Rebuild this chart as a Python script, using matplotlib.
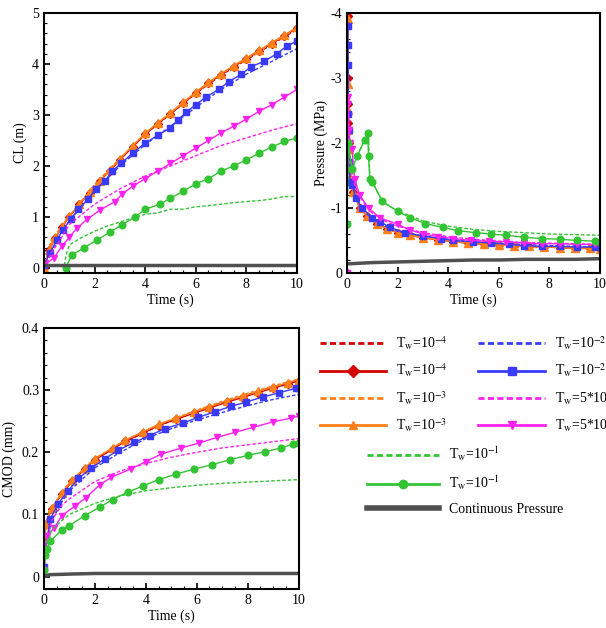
import matplotlib
matplotlib.use("Agg")
import matplotlib.pyplot as plt
from matplotlib.lines import Line2D
from matplotlib.ticker import MultipleLocator, FuncFormatter

plt.rcParams['font.family'] = ['Liberation Serif', 'DejaVu Serif']
plt.rcParams['mathtext.fontset'] = 'stix'
plt.rcParams['font.size'] = 10

# colours of the five Tw cases + continuous pressure
c_red, c_orange, c_blue, c_mag, c_green, c_gray = '#d40000', '#ff7f1a', '#3a3aff', '#ff22ee', '#33c433', '#505050'

# ---------------- CL (m) ----------------
cl_t_dash = [0, 0.3, 0.7, 1, 2, 3, 4, 5, 6, 7, 8, 9, 10]
cl_red_dash = [0, 0.55, 0.8, 1.0, 1.63, 2.13, 2.62, 3.02, 3.42, 3.78, 4.08, 4.38, 4.68]
cl_orange_dash = [0, 0.56, 0.81, 1.01, 1.64, 2.15, 2.64, 3.04, 3.44, 3.8, 4.1, 4.4, 4.7]
cl_blue_dash = [0, 0.3, 0.72, 0.92, 1.5, 2.0, 2.42, 2.78, 3.15, 3.5, 3.8, 4.05, 4.3]
cl_mag_dash = [0, 0.3, 0.6, 0.85, 1.25, 1.55, 1.8, 2.0, 2.2, 2.4, 2.55, 2.7, 2.83]
cl_t_gdash = [0.8, 0.9, 1.0, 1.5, 2, 2.5, 3, 3.5, 4, 4.5, 5, 5.5, 6, 6.5, 7, 7.5, 8, 8.5, 9, 9.5, 10]
cl_green_dash = [0.05, 0.3, 0.45, 0.6, 0.72, 0.82, 0.9, 0.98, 1.05, 1.08, 1.15, 1.15, 1.2, 1.22, 1.25, 1.28, 1.3, 1.32, 1.35, 1.4, 1.4]

cl_t_red = [0, 0.2, 0.45, 0.7, 1.0, 1.4, 1.8, 2.2, 2.6, 3.0, 3.5, 4.0, 4.5, 5.0, 5.5, 6.0, 6.5, 7.0, 7.5, 8.0, 8.5, 9.0, 9.5, 10]
cl_red = [0, 0.35, 0.58, 0.8, 1.0, 1.25, 1.47, 1.7, 1.9, 2.12, 2.37, 2.62, 2.83, 3.02, 3.23, 3.43, 3.62, 3.79, 3.95, 4.1, 4.25, 4.4, 4.55, 4.7]
cl_orange = [0, 0.36, 0.59, 0.81, 1.01, 1.26, 1.48, 1.71, 1.92, 2.14, 2.39, 2.64, 2.85, 3.04, 3.25, 3.45, 3.64, 3.81, 3.97, 4.12, 4.27, 4.42, 4.57, 4.72]
cl_t_blue = [0, 0.25, 0.5, 0.75, 1.05, 1.35, 1.75, 2.05, 2.4, 2.7, 3.05, 3.5, 4.0, 4.5, 5.0, 5.3, 5.6, 6.0, 6.4, 6.9, 7.3, 7.8, 8.2, 8.7, 9.2, 9.6, 10]
cl_blue = [0.05, 0.3, 0.55, 0.75, 0.95, 1.15, 1.35, 1.55, 1.7, 1.9, 2.05, 2.25, 2.45, 2.6, 2.75, 2.9, 3.05, 3.2, 3.35, 3.5, 3.65, 3.8, 3.95, 4.05, 4.2, 4.35, 4.45]
cl_t_mag = [0, 0.4, 0.7, 1.0, 1.3, 1.7, 2.2, 2.8, 3.1, 3.5, 4.0, 4.5, 5.0, 5.5, 6.0, 6.5, 7.0, 7.5, 8.0, 8.5, 9.0, 9.5, 10]
cl_mag = [0.05, 0.2, 0.42, 0.6, 0.78, 0.95, 1.13, 1.3, 1.45, 1.6, 1.75, 1.9, 2.05, 2.2, 2.35, 2.5, 2.65, 2.78, 2.92, 3.07, 3.2, 3.35, 3.5]
cl_t_green = [0.85, 1.1, 1.6, 2.1, 2.6, 3.1, 3.6, 4.0, 4.6, 5.0, 5.5, 6.0, 6.5, 7.0, 7.5, 8.0, 8.5, 9.0, 9.5, 10]
cl_green = [0.0, 0.25, 0.4, 0.55, 0.7, 0.85, 1.0, 1.15, 1.25, 1.37, 1.5, 1.65, 1.75, 1.9, 2.0, 2.12, 2.25, 2.37, 2.48, 2.55]
cont_t = [0, 10]
cl_cont = [0.05, 0.05]

# ---------------- Pressure (MPa) ----------------
p_t_dash = [0, 0.02, 0.05, 0.1, 0.25, 0.5, 0.8, 1, 1.5, 2, 3, 4, 5, 6, 7, 8, 9, 10]
p_red_dash = [0, -3.9, -2.0, -1.5, -1.25, -1.0, -0.88, -0.8, -0.7, -0.62, -0.55, -0.5, -0.46, -0.43, -0.41, -0.4, -0.38, -0.37]
p_orange_dash = [0, -3.9, -2.0, -1.5, -1.25, -1.0, -0.88, -0.8, -0.7, -0.62, -0.55, -0.5, -0.46, -0.43, -0.41, -0.4, -0.38, -0.37]
p_blue_dash = [0, -3.8, -2.2, -1.5, -1.3, -1.05, -0.9, -0.84, -0.72, -0.64, -0.57, -0.52, -0.48, -0.46, -0.44, -0.42, -0.41, -0.4]
p_mag_dash = [0, -2.7, -2.1, -1.7, -1.4, -1.18, -1.0, -0.92, -0.8, -0.72, -0.62, -0.56, -0.52, -0.49, -0.47, -0.46, -0.45, -0.44]
p_t_gdash = [0, 0.05, 0.2, 0.4, 0.7, 0.85, 0.9, 1.0, 1.4, 2.0, 2.5, 3.0, 4.0, 5.0, 6.0, 7.0, 8.0, 9.0, 10]
p_green_dash = [-0.75, -2.0, -1.6, -1.8, -2.05, -2.15, -1.5, -1.4, -1.1, -0.95, -0.88, -0.8, -0.72, -0.67, -0.64, -0.62, -0.6, -0.59, -0.58]

p_t_red = [0, 0.02, 0.03, 0.04, 0.05, 0.06, 0.08, 0.12, 0.25, 0.5, 0.8, 1.2, 1.6, 2.0, 2.5, 3.0, 3.6, 4.2, 4.8, 5.4, 6.0, 6.6, 7.2, 7.8, 8.4, 9.0, 9.6, 10]
p_red = [0, -3.95, -3.0, -2.6, -2.3, -2.0, -1.6, -1.45, -1.25, -1.0, -0.88, -0.76, -0.68, -0.62, -0.58, -0.54, -0.51, -0.48, -0.46, -0.44, -0.43, -0.42, -0.41, -0.4, -0.39, -0.38, -0.38, -0.37]
p_orange = [0, -3.9, -2.9, -2.5, -2.2, -1.9, -1.6, -1.45, -1.25, -1.0, -0.88, -0.76, -0.68, -0.62, -0.58, -0.54, -0.51, -0.48, -0.46, -0.44, -0.43, -0.42, -0.41, -0.4, -0.39, -0.38, -0.38, -0.37]
p_t_blue = [0, 0.02, 0.03, 0.04, 0.05, 0.07, 0.09, 0.12, 0.2, 0.35, 0.6, 1.0, 1.3, 1.7, 2.3, 3.0, 3.7, 4.2, 5.0, 5.7, 6.4, 7.0, 7.7, 8.4, 9.1, 9.8, 10]
p_blue = [0, -3.8, -3.5, -3.2, -2.45, -2.2, -1.7, -1.4, -1.35, -1.15, -1.0, -0.85, -0.79, -0.7, -0.62, -0.57, -0.53, -0.5, -0.48, -0.46, -0.44, -0.42, -0.41, -0.41, -0.4, -0.4, -0.4]
p_t_mag = [0, 0.03, 0.05, 0.08, 0.12, 0.2, 0.3, 0.5, 0.85, 1.3, 2.0, 2.5, 3.0, 3.6, 4.2, 4.9, 5.6, 6.3, 7.0, 7.7, 8.4, 9.1, 9.8, 10]
p_mag = [0, -2.7, -2.6, -2.2, -2.0, -1.9, -1.45, -1.2, -1.0, -0.85, -0.75, -0.66, -0.6, -0.56, -0.53, -0.5, -0.49, -0.48, -0.46, -0.45, -0.45, -0.44, -0.44, -0.45]
p_t_green = [0, 0.05, 0.2, 0.4, 0.7, 0.82, 0.85, 0.9, 1.0, 1.4, 2.0, 2.5, 3.1, 3.8, 4.4, 5.1, 5.7, 6.3, 7.0, 7.7, 8.4, 9.1, 9.8, 10]
p_green = [-0.75, -2.0, -1.6, -1.8, -2.05, -2.15, -1.8, -1.45, -1.4, -1.1, -0.95, -0.85, -0.76, -0.7, -0.65, -0.62, -0.6, -0.58, -0.55, -0.53, -0.52, -0.5, -0.49, -0.48]
p_cont_t = [0, 1, 2, 3, 4, 5, 6, 7, 8, 9, 10]
p_cont = [-0.14, -0.16, -0.17, -0.18, -0.19, -0.2, -0.2, -0.21, -0.21, -0.21, -0.22]

# ---------------- CMOD (mm) ----------------
cm_t_dash = [0, 0.05, 0.3, 0.7, 1, 2, 3, 4, 5, 6, 7, 8, 9, 10]
cm_red_dash = [0.04, 0.083, 0.108, 0.133, 0.15, 0.188, 0.213, 0.233, 0.251, 0.266, 0.28, 0.293, 0.305, 0.316]
cm_orange_dash = [0.045, 0.085, 0.11, 0.135, 0.152, 0.19, 0.215, 0.235, 0.253, 0.268, 0.282, 0.295, 0.307, 0.318]
cm_blue_dash = [0.015, 0.045, 0.09, 0.12, 0.138, 0.175, 0.2, 0.222, 0.238, 0.252, 0.264, 0.275, 0.285, 0.293]
cm_mag_dash = [0.01, 0.04, 0.09, 0.115, 0.125, 0.153, 0.17, 0.182, 0.192, 0.2, 0.207, 0.212, 0.217, 0.222]
cm_green_dash = [0.008, 0.035, 0.075, 0.09, 0.1, 0.118, 0.13, 0.138, 0.143, 0.147, 0.15, 0.152, 0.154, 0.156]

cm_t_or = [0, 0.05, 0.3, 0.7, 1.1, 1.6, 2.0, 2.7, 3.2, 3.9, 4.5, 5.2, 5.9, 6.5, 7.2, 7.8, 8.4, 9.0, 9.6, 10]
cm_red = [0.04, 0.083, 0.108, 0.133, 0.153, 0.173, 0.188, 0.205, 0.218, 0.231, 0.243, 0.253, 0.263, 0.271, 0.281, 0.288, 0.296, 0.303, 0.31, 0.315]
cm_orange = [0.045, 0.085, 0.11, 0.135, 0.155, 0.175, 0.19, 0.207, 0.22, 0.233, 0.245, 0.255, 0.265, 0.273, 0.283, 0.29, 0.298, 0.305, 0.312, 0.317]
cm_t_blue = [0, 0.05, 0.25, 0.55, 0.95, 1.35, 1.85, 2.4, 2.9, 3.55, 4.15, 4.75, 5.45, 6.05, 6.7, 7.35, 7.95, 8.6, 9.25, 9.9, 10]
cm_blue = [0.015, 0.045, 0.093, 0.117, 0.138, 0.158, 0.174, 0.19, 0.203, 0.216, 0.227, 0.238, 0.247, 0.256, 0.265, 0.274, 0.281, 0.289, 0.296, 0.303, 0.304]
cm_t_mag = [0, 0.05, 0.1, 0.4, 0.7, 1.2, 1.65, 2.2, 2.65, 3.4, 4.0, 4.6, 5.4, 6.1, 6.8, 7.5, 8.2, 9.0, 9.7, 10]
cm_mag = [0.01, 0.04, 0.065, 0.078, 0.098, 0.113, 0.127, 0.148, 0.16, 0.173, 0.185, 0.197, 0.207, 0.215, 0.224, 0.232, 0.24, 0.249, 0.255, 0.258]
cm_t_green = [0, 0.05, 0.1, 0.25, 0.7, 1.0, 1.6, 2.2, 2.7, 3.3, 3.9, 4.5, 5.2, 5.9, 6.6, 7.3, 8.0, 8.7, 9.3, 9.8, 10]
cm_green = [0.01, 0.035, 0.045, 0.057, 0.075, 0.082, 0.098, 0.112, 0.124, 0.136, 0.146, 0.156, 0.165, 0.173, 0.18, 0.188, 0.195, 0.201, 0.207, 0.213, 0.215]
cm_cont_t = [0, 0.2, 1, 2, 4, 6, 8, 10]
cm_cont = [0.0, 0.003, 0.004, 0.005, 0.005, 0.005, 0.005, 0.005]

fig = plt.figure(figsize=(6.06, 6.28), dpi=100)
ax1 = fig.add_axes([0.0726, 0.5653, 0.4175, 0.414])
ax2 = fig.add_axes([0.5726, 0.5653, 0.4175, 0.414])
ax3 = fig.add_axes([0.0726, 0.0621, 0.42, 0.4156])

ms = 4.8
dash = dict(ls=(0, (2.5, 1.5)), lw=1.0)


def draw(ax, data):
    # data: (t, y, colour, style, marker)
    for t, y, col, kind, mk in data:
        if kind == 'dash':
            ax.plot(t, y, color=col, **dash)
        elif kind == 'cont':
            ax.plot(t, y, color=col, lw=2.5, solid_capstyle='butt')
        else:
            size = ms
            if mk == 'D':
                size = 3.6   # red diamonds mostly hidden under the orange curve
            elif mk == '^':
                size = 5.6
            ax.plot(t, y, color=col, marker=mk, ls='-', lw=1.0, ms=size)


draw(ax1, [
    (cl_t_dash, cl_red_dash, c_red, 'dash', None),
    (cl_t_red, cl_red, c_red, 'solid', 'D'),
    (cl_t_dash, cl_orange_dash, c_orange, 'dash', None),
    (cl_t_red, cl_orange, c_orange, 'solid', '^'),
    (cl_t_dash, cl_blue_dash, c_blue, 'dash', None),
    (cl_t_blue, cl_blue, c_blue, 'solid', 's'),
    (cl_t_dash, cl_mag_dash, c_mag, 'dash', None),
    (cl_t_mag, cl_mag, c_mag, 'solid', 'v'),
    (cl_t_gdash, cl_green_dash, c_green, 'dash', None),
    (cl_t_green, cl_green, c_green, 'solid', 'o'),
    (cont_t, cl_cont, c_gray, 'cont', None),
])
draw(ax2, [
    (p_t_dash, p_red_dash, c_red, 'dash', None),
    (p_t_red, p_red, c_red, 'solid', 'D'),
    (p_t_dash, p_orange_dash, c_orange, 'dash', None),
    (p_t_red, p_orange, c_orange, 'solid', '^'),
    (p_t_dash, p_blue_dash, c_blue, 'dash', None),
    (p_t_blue, p_blue, c_blue, 'solid', 's'),
    (p_t_dash, p_mag_dash, c_mag, 'dash', None),
    (p_t_mag, p_mag, c_mag, 'solid', 'v'),
    (p_t_gdash, p_green_dash, c_green, 'dash', None),
    (p_t_green, p_green, c_green, 'solid', 'o'),
    (p_cont_t, p_cont, c_gray, 'cont', None),
])
draw(ax3, [
    (cm_t_dash, cm_red_dash, c_red, 'dash', None),
    (cm_t_or, cm_red, c_red, 'solid', 'D'),
    (cm_t_dash, cm_orange_dash, c_orange, 'dash', None),
    (cm_t_or, cm_orange, c_orange, 'solid', '^'),
    (cm_t_dash, cm_blue_dash, c_blue, 'dash', None),
    (cm_t_blue, cm_blue, c_blue, 'solid', 's'),
    (cm_t_dash, cm_mag_dash, c_mag, 'dash', None),
    (cm_t_mag, cm_mag, c_mag, 'solid', 'v'),
    (cm_t_dash, cm_green_dash, c_green, 'dash', None),
    (cm_t_green, cm_green, c_green, 'solid', 'o'),
    (cm_cont_t, cm_cont, c_gray, 'cont', None),
])

ax1.set_ylim(-0.1, 5)
ax1.yaxis.set_major_locator(MultipleLocator(1))
ax1.yaxis.set_minor_locator(MultipleLocator(0.2))
ax1.set_ylabel('CL (m)')

ax2.set_ylim(0, -4)
ax2.yaxis.set_major_locator(MultipleLocator(1))
ax2.yaxis.set_minor_locator(MultipleLocator(0.2))
ax2.yaxis.set_major_formatter(FuncFormatter(lambda v, p: f'{v:.0f}' if abs(v) > 1e-9 else '0'))
ax2.set_ylabel('Pressure (MPa)', labelpad=2)

ax3.set_ylim(-0.02, 0.4)
ax3.yaxis.set_major_locator(MultipleLocator(0.1))
ax3.yaxis.set_minor_locator(MultipleLocator(0.02))
ax3.yaxis.set_major_formatter(FuncFormatter(lambda v, p: '0' if abs(v) < 1e-9 else f'{v:.1f}'))
ax3.set_ylabel('CMOD (mm)')

for ax in (ax1, ax2, ax3):
    ax.set_xlim(0, 10)
    ax.xaxis.set_major_locator(MultipleLocator(2))
    ax.xaxis.set_minor_locator(MultipleLocator(0.5))
    ax.set_xlabel('Time (s)', labelpad=2)
    ax.tick_params(which='both', direction='in', top=False, right=False, labelsize=10)
    ax.tick_params(which='major', length=4, width=1.2)
    ax.tick_params(which='minor', length=2.5, width=0.8)
    for s in ax.spines.values():
        s.set_linewidth(1.5)


# legend
def h(col, kind, mk=None):
    if kind == 'dash':
        return Line2D([], [], color=col, ls=(0, (2.2, 1.2)), lw=2)
    if kind == 'cont':
        return Line2D([], [], color=col, lw=4)
    return Line2D([], [], color=col, lw=2, marker=mk, ms=6)

labs = [r'T$_\mathrm{w}$=10$^{-4}$', r'T$_\mathrm{w}$=10$^{-4}$', r'T$_\mathrm{w}$=10$^{-3}$', r'T$_\mathrm{w}$=10$^{-3}$',
        r'T$_\mathrm{w}$=10$^{-2}$', r'T$_\mathrm{w}$=10$^{-2}$', r'T$_\mathrm{w}$=5*10$^{-2}$', r'T$_\mathrm{w}$=5*10$^{-2}$']
hands = [h(c_red, 'dash'), h(c_red, 'solid', 'D'), h(c_orange, 'dash'), h(c_orange, 'solid', '^'),
         h(c_blue, 'dash'), h(c_blue, 'solid', 's'), h(c_mag, 'dash'), h(c_mag, 'solid', 'v')]
fig.legend(hands, labs, ncol=2, loc='upper left', bbox_to_anchor=(0.507, 0.4875),
           frameon=False, handlelength=4.8, columnspacing=2.2, labelspacing=0.7,
           handletextpad=0.7, fontsize=10)
fig.legend([h(c_green, 'dash'), h(c_green, 'solid', 'o'), h(c_gray, 'cont')],
           [r'T$_\mathrm{w}$=10$^{-1}$', r'T$_\mathrm{w}$=10$^{-1}$', 'Continuous Pressure'],
           loc='upper left', bbox_to_anchor=(0.585, 0.311),
           frameon=False, handlelength=5.2, labelspacing=0.75,
           handletextpad=0.7, fontsize=10)

fig.savefig('out.png', dpi=100)
